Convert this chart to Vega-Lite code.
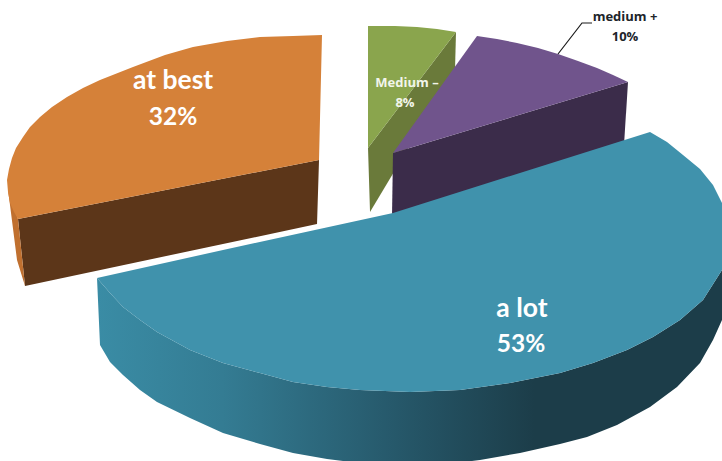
{
  "$schema": "https://vega.github.io/schema/vega-lite/v6.json",
  "width": 722,
  "height": 461,
  "autosize": {"type": "fit", "contains": "padding"},
  "padding": 0,
  "background": "white",
  "config": {"view": {"stroke": null}},
  "datasets": {
    "rim": [
      {"seq": 1, "x": 97, "y": 278}, {"seq": 2, "x": 110, "y": 293}, {"seq": 3, "x": 123, "y": 307},
      {"seq": 4, "x": 140, "y": 320}, {"seq": 5, "x": 157, "y": 332}, {"seq": 6, "x": 190, "y": 350},
      {"seq": 7, "x": 223, "y": 363}, {"seq": 8, "x": 260, "y": 373}, {"seq": 9, "x": 293, "y": 382},
      {"seq": 10, "x": 327, "y": 387}, {"seq": 11, "x": 360, "y": 390}, {"seq": 12, "x": 410, "y": 392},
      {"seq": 13, "x": 460, "y": 390}, {"seq": 14, "x": 510, "y": 383}, {"seq": 15, "x": 560, "y": 373},
      {"seq": 16, "x": 593, "y": 363}, {"seq": 17, "x": 627, "y": 350}, {"seq": 18, "x": 653, "y": 337},
      {"seq": 19, "x": 680, "y": 320}, {"seq": 20, "x": 703, "y": 300}, {"seq": 21, "x": 722, "y": 270},
      {"seq": 22, "x": 722, "y": 320}, {"seq": 23, "x": 713, "y": 340}, {"seq": 24, "x": 700, "y": 363},
      {"seq": 25, "x": 677, "y": 387}, {"seq": 26, "x": 650, "y": 407}, {"seq": 27, "x": 617, "y": 425},
      {"seq": 28, "x": 587, "y": 437}, {"seq": 29, "x": 560, "y": 444}, {"seq": 30, "x": 520, "y": 453},
      {"seq": 31, "x": 480, "y": 460}, {"seq": 32, "x": 440, "y": 465}, {"seq": 33, "x": 400, "y": 466},
      {"seq": 34, "x": 343, "y": 461}, {"seq": 35, "x": 327, "y": 459}, {"seq": 36, "x": 293, "y": 453},
      {"seq": 37, "x": 260, "y": 444}, {"seq": 38, "x": 223, "y": 433}, {"seq": 39, "x": 190, "y": 418},
      {"seq": 40, "x": 157, "y": 402}, {"seq": 41, "x": 140, "y": 390}, {"seq": 42, "x": 123, "y": 375},
      {"seq": 43, "x": 110, "y": 362}, {"seq": 44, "x": 100, "y": 345}
    ],
    "faces": [
      {"face": "at best side", "seq": 1, "x": 18, "y": 219}, {"face": "at best side", "seq": 2, "x": 319, "y": 160},
      {"face": "at best side", "seq": 3, "x": 317, "y": 224}, {"face": "at best side", "seq": 4, "x": 25, "y": 286},

      {"face": "at best edge", "seq": 1, "x": 8, "y": 190}, {"face": "at best edge", "seq": 2, "x": 18, "y": 219},
      {"face": "at best edge", "seq": 3, "x": 25, "y": 286}, {"face": "at best edge", "seq": 4, "x": 17, "y": 260},
      {"face": "at best edge", "seq": 5, "x": 10, "y": 205},

      {"face": "at best top", "seq": 1, "x": 322, "y": 35}, {"face": "at best top", "seq": 2, "x": 293, "y": 36},
      {"face": "at best top", "seq": 3, "x": 260, "y": 37}, {"face": "at best top", "seq": 4, "x": 227, "y": 41},
      {"face": "at best top", "seq": 5, "x": 193, "y": 47}, {"face": "at best top", "seq": 6, "x": 165, "y": 55},
      {"face": "at best top", "seq": 7, "x": 133, "y": 67}, {"face": "at best top", "seq": 8, "x": 100, "y": 80},
      {"face": "at best top", "seq": 9, "x": 83, "y": 88}, {"face": "at best top", "seq": 10, "x": 67, "y": 97},
      {"face": "at best top", "seq": 11, "x": 52, "y": 107}, {"face": "at best top", "seq": 12, "x": 40, "y": 117},
      {"face": "at best top", "seq": 13, "x": 30, "y": 127}, {"face": "at best top", "seq": 14, "x": 23, "y": 137},
      {"face": "at best top", "seq": 15, "x": 16, "y": 148}, {"face": "at best top", "seq": 16, "x": 12, "y": 158},
      {"face": "at best top", "seq": 17, "x": 9, "y": 169}, {"face": "at best top", "seq": 18, "x": 7, "y": 180},
      {"face": "at best top", "seq": 19, "x": 8, "y": 192}, {"face": "at best top", "seq": 20, "x": 10, "y": 203},
      {"face": "at best top", "seq": 21, "x": 14, "y": 212}, {"face": "at best top", "seq": 22, "x": 18, "y": 219},
      {"face": "at best top", "seq": 23, "x": 319, "y": 160},

      {"face": "medium minus side", "seq": 1, "x": 456, "y": 32}, {"face": "medium minus side", "seq": 2, "x": 455, "y": 70},
      {"face": "medium minus side", "seq": 3, "x": 370, "y": 212}, {"face": "medium minus side", "seq": 4, "x": 368, "y": 148},

      {"face": "medium minus top", "seq": 1, "x": 368, "y": 26}, {"face": "medium minus top", "seq": 2, "x": 395, "y": 26},
      {"face": "medium minus top", "seq": 3, "x": 417, "y": 27}, {"face": "medium minus top", "seq": 4, "x": 437, "y": 29},
      {"face": "medium minus top", "seq": 5, "x": 456, "y": 32}, {"face": "medium minus top", "seq": 6, "x": 368, "y": 148},

      {"face": "medium plus side", "seq": 1, "x": 628, "y": 82}, {"face": "medium plus side", "seq": 2, "x": 624, "y": 145},
      {"face": "medium plus side", "seq": 3, "x": 392, "y": 216}, {"face": "medium plus side", "seq": 4, "x": 393, "y": 153},

      {"face": "medium plus top", "seq": 1, "x": 477, "y": 36}, {"face": "medium plus top", "seq": 2, "x": 497, "y": 39},
      {"face": "medium plus top", "seq": 3, "x": 517, "y": 43}, {"face": "medium plus top", "seq": 4, "x": 538, "y": 48},
      {"face": "medium plus top", "seq": 5, "x": 558, "y": 54}, {"face": "medium plus top", "seq": 6, "x": 578, "y": 61},
      {"face": "medium plus top", "seq": 7, "x": 597, "y": 68}, {"face": "medium plus top", "seq": 8, "x": 613, "y": 75},
      {"face": "medium plus top", "seq": 9, "x": 628, "y": 82}, {"face": "medium plus top", "seq": 10, "x": 393, "y": 153},

      {"face": "a lot top", "seq": 1, "x": 97, "y": 278}, {"face": "a lot top", "seq": 2, "x": 223, "y": 250},
      {"face": "a lot top", "seq": 3, "x": 393, "y": 213}, {"face": "a lot top", "seq": 4, "x": 650, "y": 132},
      {"face": "a lot top", "seq": 5, "x": 667, "y": 142}, {"face": "a lot top", "seq": 6, "x": 683, "y": 155},
      {"face": "a lot top", "seq": 7, "x": 700, "y": 169}, {"face": "a lot top", "seq": 8, "x": 713, "y": 185},
      {"face": "a lot top", "seq": 9, "x": 722, "y": 203}, {"face": "a lot top", "seq": 10, "x": 726, "y": 225},
      {"face": "a lot top", "seq": 11, "x": 726, "y": 248}, {"face": "a lot top", "seq": 12, "x": 722, "y": 270},
      {"face": "a lot top", "seq": 13, "x": 703, "y": 300}, {"face": "a lot top", "seq": 14, "x": 680, "y": 320},
      {"face": "a lot top", "seq": 15, "x": 653, "y": 337}, {"face": "a lot top", "seq": 16, "x": 627, "y": 350},
      {"face": "a lot top", "seq": 17, "x": 593, "y": 363}, {"face": "a lot top", "seq": 18, "x": 560, "y": 373},
      {"face": "a lot top", "seq": 19, "x": 510, "y": 383}, {"face": "a lot top", "seq": 20, "x": 460, "y": 390},
      {"face": "a lot top", "seq": 21, "x": 410, "y": 392}, {"face": "a lot top", "seq": 22, "x": 360, "y": 390},
      {"face": "a lot top", "seq": 23, "x": 327, "y": 387}, {"face": "a lot top", "seq": 24, "x": 293, "y": 382},
      {"face": "a lot top", "seq": 25, "x": 260, "y": 373}, {"face": "a lot top", "seq": 26, "x": 223, "y": 363},
      {"face": "a lot top", "seq": 27, "x": 190, "y": 350}, {"face": "a lot top", "seq": 28, "x": 157, "y": 332},
      {"face": "a lot top", "seq": 29, "x": 140, "y": 320}, {"face": "a lot top", "seq": 30, "x": 123, "y": 307},
      {"face": "a lot top", "seq": 31, "x": 110, "y": 293}
    ],
    "leader": [
      {"seq": 1, "x": 592, "y": 23}, {"seq": 2, "x": 582, "y": 23}, {"seq": 3, "x": 558, "y": 54}
    ],
    "names": [
      {"text": "at best", "x": 173, "y": 89}, {"text": "a lot", "x": 522, "y": 317}
    ],
    "shares": [
      {"text": "32%", "x": 173, "y": 125}, {"text": "53%", "x": 521, "y": 352}
    ],
    "smallLabels": [
      {"text": "Medium –", "x": 407, "y": 87, "tone": "inside"}, {"text": "8%", "x": 405, "y": 107, "tone": "inside"},
      {"text": "medium +", "x": 625, "y": 21, "tone": "outside"}, {"text": "10%", "x": 625, "y": 41, "tone": "outside"}
    ]
  },
  "encoding": {
    "x": {"field": "x", "type": "quantitative", "axis": null, "scale": {"domain": [0, 722], "nice": false, "zero": false}},
    "y": {"field": "y", "type": "quantitative", "axis": null, "scale": {"domain": [461, 0], "nice": false, "zero": false}}
  },
  "layer": [
    {
      "data": {"name": "rim"},
      "mark": {
        "type": "line",
        "clip": true,
        "stroke": null,
        "fill": {
          "gradient": "linear", "x1": 0, "y1": 0, "x2": 1, "y2": 0,
          "stops": [
            {"offset": 0, "color": "#3A8CA5"},
            {"offset": 0.2, "color": "#347C93"},
            {"offset": 0.48, "color": "#26586A"},
            {"offset": 0.7, "color": "#1C3D49"},
            {"offset": 1, "color": "#1C3D49"}
          ]
        }
      },
      "encoding": {"order": {"field": "seq", "type": "quantitative"}}
    },
    {
      "data": {"name": "faces"},
      "mark": {"type": "line", "clip": true, "stroke": null},
      "encoding": {
        "order": {"field": "seq", "type": "quantitative"},
        "fill": {
          "field": "face",
          "type": "nominal",
          "legend": null,
          "scale": {
            "domain": ["at best side", "at best edge", "at best top", "medium minus side", "medium minus top", "medium plus side", "medium plus top", "a lot top"],
            "range": ["#5C3619", "#C0702F", "#D58139", "#6A7A3A", "#8AA54D", "#3B2C4A", "#70548C", "#4092AC"]
          }
        }
      }
    },
    {
      "data": {"name": "leader"},
      "mark": {"type": "line", "color": "#1a1a1a", "strokeWidth": 1.2},
      "encoding": {"order": {"field": "seq", "type": "quantitative"}}
    },
    {
      "data": {"name": "names"},
      "mark": {"type": "text", "font": "Lato", "fontWeight": "bold", "fontSize": 26.5, "color": "white", "align": "center", "baseline": "alphabetic"},
      "encoding": {"text": {"field": "text", "type": "nominal"}}
    },
    {
      "data": {"name": "shares"},
      "mark": {"type": "text", "font": "Lato", "fontWeight": "bold", "fontSize": 24.5, "color": "white", "align": "center", "baseline": "alphabetic"},
      "encoding": {"text": {"field": "text", "type": "nominal"}}
    },
    {
      "data": {"name": "smallLabels"},
      "mark": {"type": "text", "font": "Open Sans", "fontWeight": "bold", "fontSize": 13, "align": "center", "baseline": "alphabetic"},
      "encoding": {
        "text": {"field": "text", "type": "nominal"},
        "color": {
          "field": "tone",
          "type": "nominal",
          "legend": null,
          "scale": {"domain": ["inside", "outside"], "range": ["#F2F5EA", "#20242A"]}
        }
      }
    }
  ]
}
